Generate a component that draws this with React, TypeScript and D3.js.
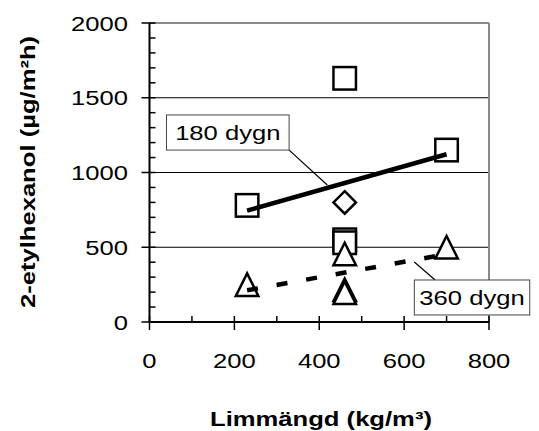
import React, { useEffect, useRef } from 'react';
import * as d3 from 'd3';

// Limmängd (kg/m³) vs 2-etylhexanol emission
const squareX = [230, 460, 460, 460, 700];
const squareY = [780, 1630, 550, 530, 1150];
const diamondX = [460];
const diamondY = [800];
const triangleX = [230, 460, 460, 460, 700];
const triangleY = [250, 455, 215, 195, 500];

// trend lines (180 dygn solid, 360 dygn dashed)
const trend180X = [230, 700];
const trend180Y = [745, 1122];
const trend360X = [230, 700];
const trend360Y = [212, 454];

const xTicks = [0, 200, 400, 600, 800];
const yTicks = [0, 500, 1000, 1500, 2000];
const labels = ['180 dygn', '360 dygn'];

const WIDTH = 539;
const HEIGHT = 431;
const FONT = '"Liberation Sans", Arial, sans-serif';
const STRETCH = 1.22;

const App: React.FC = () => {
    const svgRef = useRef<SVGSVGElement>(null);

    useEffect(() => {
        if (!svgRef.current) return;
        const svg = d3.select(svgRef.current);
        svg.selectAll('*').remove();

        const x = d3.scaleLinear().domain([0, 800]).range([149.5, 489]);
        const y = d3.scaleLinear().domain([0, 2000]).range([322, 23]);

        // text in the original is a bit wider than Arial
        const addText = (g: any, tx: number, ty: number, txt: string, anchor: string, bold = false, rotate = 0) => {
            g.append('text')
                .attr('transform', `translate(${tx},${ty}) rotate(${rotate}) scale(${STRETCH},1)`)
                .attr('text-anchor', anchor)
                .style('font-family', FONT)
                .style('font-size', '21px')
                .style('font-weight', bold ? 'bold' : 'normal')
                .attr('fill', '#000')
                .text(txt);
        };

        // grid lines
        svg.append('g')
            .selectAll('line')
            .data([500, 1000, 1500])
            .enter()
            .append('line')
            .attr('x1', x(0)).attr('x2', x(800))
            .attr('y1', d => y(d)).attr('y2', d => y(d))
            .attr('stroke', '#000')
            .attr('stroke-width', 1);

        // plot frame (top and right)
        svg.append('line')
            .attr('x1', x(0)).attr('x2', x(800))
            .attr('y1', y(2000)).attr('y2', y(2000))
            .attr('stroke', '#8a8a8a').attr('stroke-width', 2);
        svg.append('line')
            .attr('x1', x(800)).attr('x2', x(800))
            .attr('y1', y(2000)).attr('y2', y(0))
            .attr('stroke', '#8a8a8a').attr('stroke-width', 2);

        // axes
        const axes = svg.append('g').attr('stroke', '#000');
        axes.append('line')
            .attr('x1', x(0)).attr('x2', x(800))
            .attr('y1', y(0)).attr('y2', y(0))
            .attr('stroke-width', 2);
        axes.append('line')
            .attr('x1', x(0)).attr('x2', x(0))
            .attr('y1', y(0)).attr('y2', y(2000))
            .attr('stroke-width', 2);

        const xMinor = d3.range(100, 800, 200);
        axes.selectAll('.xmaj')
            .data(xTicks).enter().append('line')
            .attr('x1', d => x(d)).attr('x2', d => x(d))
            .attr('y1', y(0) - 6).attr('y2', y(0) + 8)
            .attr('stroke-width', 1.5);
        axes.selectAll('.xmin')
            .data(xMinor).enter().append('line')
            .attr('x1', d => x(d)).attr('x2', d => x(d))
            .attr('y1', y(0) - 6).attr('y2', y(0))
            .attr('stroke-width', 1.5);

        const yMinor = d3.range(100, 2000, 100).filter(v => v % 500 !== 0);
        axes.selectAll('.ymaj')
            .data(yTicks).enter().append('line')
            .attr('x1', x(0) - 8).attr('x2', x(0) + 6)
            .attr('y1', d => y(d)).attr('y2', d => y(d))
            .attr('stroke-width', 1.5);
        axes.selectAll('.ymin')
            .data(yMinor).enter().append('line')
            .attr('x1', x(0)).attr('x2', x(0) + 6)
            .attr('y1', d => y(d)).attr('y2', d => y(d))
            .attr('stroke-width', 1.5);

        // tick labels
        const tl = svg.append('g');
        xTicks.forEach(t => addText(tl, x(t), 368, String(t), 'middle'));
        yTicks.forEach(t => addText(tl, 128, y(t) + 7.5, String(t), 'end'));

        // axis titles
        addText(svg, 321, 426, 'Limmängd (kg/m³)', 'middle', true);
        addText(svg, 35, 172, '2-etylhexanol (µg/m²h)', 'middle', true, -90);

        // markers, white filled so they hide the grid
        const markers = svg.append('g')
            .attr('fill', '#fff')
            .attr('stroke', '#000')
            .attr('stroke-width', 2.5);
        const s = 11.25;
        markers.selectAll('.sq')
            .data(d3.range(squareX.length)).enter().append('rect')
            .attr('x', i => x(squareX[i]) - s)
            .attr('y', i => y(squareY[i]) - s)
            .attr('width', 2 * s).attr('height', 2 * s);
        markers.selectAll('.tri')
            .data(d3.range(triangleX.length)).enter().append('path')
            .attr('d', i => {
                const cx = x(triangleX[i]);
                const cy = y(triangleY[i]);
                return `M${cx},${cy - s}L${cx + s},${cy + s}L${cx - s},${cy + s}Z`;
            });
        markers.selectAll('.dia')
            .data(d3.range(diamondX.length)).enter().append('path')
            .attr('d', i => {
                const cx = x(diamondX[i]);
                const cy = y(diamondY[i]);
                return `M${cx},${cy - s}L${cx + s},${cy}L${cx},${cy + s}L${cx - s},${cy}Z`;
            });

        // trend lines drawn over the markers
        const lineGen = (xs: number[], ys: number[]) =>
            d3.line<number>().x(i => x(xs[i])).y(i => y(ys[i]))(d3.range(xs.length)) || '';
        svg.append('path')
            .attr('d', lineGen(trend180X, trend180Y))
            .attr('fill', 'none')
            .attr('stroke', '#000')
            .attr('stroke-width', 4.5);
        svg.append('path')
            .attr('d', lineGen(trend360X, trend360Y))
            .attr('fill', 'none')
            .attr('stroke', '#000')
            .attr('stroke-width', 4.5)
            .attr('stroke-dasharray', '11,19');

        // annotation boxes with leader lines (data coords)
        const notes = [
            { box: [40, 329, 1385, 1150], from: [329, 1150], to: [419, 916] },
            { box: [624, 896, 281, 47], from: [673, 281], to: [624, 401] },
        ];
        notes.forEach((n, i) => {
            svg.append('line')
                .attr('x1', x(n.from[0])).attr('y1', y(n.from[1]))
                .attr('x2', x(n.to[0])).attr('y2', y(n.to[1]))
                .attr('stroke', '#000').attr('stroke-width', 1.2);
            const bx = x(n.box[0]);
            const by = y(n.box[2]);
            const bw = x(n.box[1]) - bx;
            const bh = y(n.box[3]) - by;
            svg.append('rect')
                .attr('x', bx).attr('y', by)
                .attr('width', bw).attr('height', bh)
                .attr('fill', '#fff')
                .attr('stroke', '#444')
                .attr('stroke-width', 1);
            addText(svg, bx + bw / 2, by + bh / 2 + 7.5, labels[i], 'middle');
        });
    }, []);

    return (
        <svg
            ref={svgRef}
            width={WIDTH}
            height={HEIGHT}
            style={{ position: 'absolute', left: 0, top: 0, background: '#fff' }}
        />
    );
};

export default App;
